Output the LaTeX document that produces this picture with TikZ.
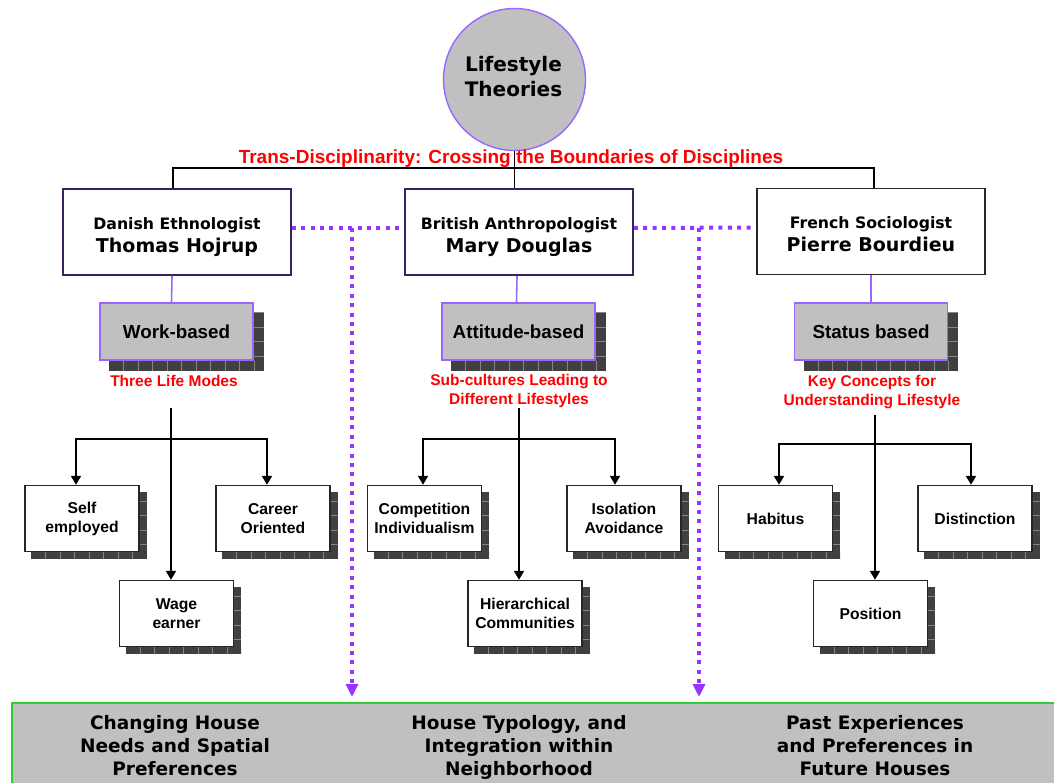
\documentclass[tikz,border=0pt]{standalone}
\usepackage{fontspec}
\setmainfont{Liberation Sans}
\newfontfamily\verd{DejaVu Sans}
\usetikzlibrary{arrows.meta,backgrounds,calc}
\definecolor{darkp}{HTML}{3A2260}
\definecolor{lightp}{HTML}{9966FF}
\definecolor{dotc}{HTML}{9933FF}
\definecolor{boxgray}{HTML}{C0C0C0}
\definecolor{shdc}{HTML}{404040}
\definecolor{shdl}{HTML}{858585}
\definecolor{bandgreen}{HTML}{33CC33}
\definecolor{redt}{HTML}{FF0000}
\newcommand\bsh[2]{%
 \begin{scope}[on background layer]
  \fill[shdc] ([shift={(#2pt,-#2pt)}]#1.south west) rectangle ([shift={(#2pt,-#2pt)}]#1.north east);
  \begin{scope}
   \clip ([shift={(#2pt,-#2pt)}]#1.south west) rectangle ([shift={(#2pt,-#2pt)}]#1.north east);
   \foreach \k in {1,...,14}{
     \draw[shdl,line width=0.8pt] ([shift={({(#2+14.5*\k)*1pt},0pt)}]#1.south west) -- +(0pt,-#2pt);
   }
   \foreach \k in {1,...,6}{
     \draw[shdl,line width=0.8pt] ([shift={(0pt,{(-#2+14.5*\k)*1pt})}]#1.south east) -- +(#2pt,0pt);
   }
  \end{scope}
 \end{scope}}
\begin{document}
\begin{tikzpicture}[x=1pt,y=-1pt,
  topbox/.style={draw=darkp, line width=1.6pt, fill=white, minimum width=228pt, minimum height=86pt, inner sep=0pt},
  toptxt/.style={align=center, inner sep=0pt, anchor=north, font=\verd\bfseries\fontsize{19}{23}\selectfont},
  midbox/.style={draw=lightp, line width=1.6pt, fill=boxgray, minimum width=153pt, minimum height=57pt, inner sep=0pt, font=\bfseries\fontsize{18.8}{22}\selectfont},
  leaf/.style={draw=black!85, line width=1.4pt, fill=white, minimum width=114pt, minimum height=66pt, inner sep=0pt, align=center, font=\bfseries\fontsize{15.7}{19}\selectfont},
  redlab/.style={text=redt, inner sep=0pt, align=center, font=\bfseries\fontsize{15.5}{19}\selectfont},
  bandtxt/.style={inner sep=0pt, anchor=north, align=center, font=\verd\bfseries\fontsize{18.5}{23}\selectfont},
  conn/.style={draw=black, line width=1.3pt},
  pconn/.style={draw=lightp, line width=1.6pt},
  arr/.style={draw=black, line width=2pt, -{Triangle[width=10pt,length=9pt]}},
  dotl/.style={draw=dotc, line width=4pt, dash pattern=on 4pt off 5.4pt},
  dotarr/.style={dotl, -{Triangle[width=12pt,length=13pt]}}
]
\useasboundingbox (0,0) rectangle (1054,783);

% bottom band
\path[draw=bandgreen, fill=boxgray, line width=2pt] (12,703) rectangle (1080,800);
\node[bandtxt] (b1) at (175,715.5) {Changing House\\Needs and Spatial\\Preferences};
\node[bandtxt] (b2) at (519,715.5) {House Typology, and\\Integration within\\Neighborhood};
\node[bandtxt] (b3) at (875,715.5) {Past Experiences\\and Preferences in\\Future Houses};

% title circle
\node[circle, draw=lightp, line width=1.4pt, fill=boxgray, minimum size=142pt, inner sep=0pt] (lt) at (514.5,79.5) {};
\node[inner sep=0pt, anchor=north, align=center, font=\verd\bfseries\fontsize{20}{25}\selectfont] (ltT) at (513.5,56) {Lifestyle\\Theories};

\node[text=redt, inner sep=0pt, anchor=base, font=\bfseries\fontsize{19}{22}\selectfont] (title) at (511,164)
  {Trans-Disciplinarity: Crossing the Boundaries of Disciplines};

% top boxes
\node[topbox] (thomas) at (177,232) {};
\node[topbox] (mary) at (519,232) {};
\node[topbox, draw=black!85] (pierre) at (871,231.5) {};
\node[toptxt] (thomasT) at ([yshift=-29pt]thomas.north) {{\fontsize{15.7}{23}\selectfont Danish Ethnologist}\\Thomas Hojrup};
\node[toptxt] (maryT) at ([yshift=-29pt]mary.north) {{\fontsize{15.7}{23}\selectfont British Anthropologist}\\Mary Douglas};
\node[toptxt] (pierreT) at ([yshift=-29pt]pierre.north) {{\fontsize{15.7}{23}\selectfont French Sociologist}\\Pierre Bourdieu};

\coordinate (hl) at (173,168);
\coordinate (hr) at (874,168);
\draw[conn] (lt.south) -- (lt.south |- mary.north);
\draw[conn] (hl |- thomas.north) -- (hl) -- (hr) -- (hr |- pierre.north);

% dotted purple
\coordinate (v1) at (352,228);
\coordinate (v1e) at (352,697);
\coordinate (v2) at (699,228);
\coordinate (v2e) at (699,697);
\draw[dotl] ([yshift=4pt]thomas.east) -- ([yshift=4pt]mary.west);
\draw[dotl] ([yshift=4pt]mary.east) -- ([yshift=4pt]pierre.west);
\draw[dotarr] (v1) -- (v1e);
\draw[dotarr] (v2) -- (v2e);

% mid boxes
\node[midbox] (work) at (176.5,331.5) {Work-based};
\node[midbox] (att) at (518.5,331.5) {Attitude-based};
\node[midbox] (stat) at (871,331.5) {Status based};
\bsh{work}{10}
\bsh{att}{10}
\bsh{stat}{10}
\draw[pconn] ([xshift=-5pt]thomas.south) -- ([xshift=-5pt]work.north);
\draw[pconn] ([xshift=-2pt]mary.south) -- ([xshift=-2pt]att.north);
\draw[pconn] (pierre.south) -- (stat.north);

% red labels
\node[redlab, anchor=base] (r1) at (174,386) {Three Life Modes};
\node[redlab, anchor=north] (r2) at (519,374.5) {Sub-cultures Leading to\\Different Lifestyles};
\node[redlab, anchor=north] (r3) at (872,375.5) {Key Concepts for\\Understanding Lifestyle};

% leaves
\node[leaf] (self) at (82,518.5) {Self\\employed};
\node[leaf] (career) at (273,518.5) {Career\\Oriented};
\node[leaf] (wage) at (176.5,613.5) {Wage\\earner};
\node[leaf] (comp) at (424.5,518.5) {Competition\\Individualism};
\node[leaf] (iso) at (624,518.5) {Isolation\\Avoidance};
\node[leaf] (hier) at (525,613.5) {Hierarchical\\Communities};
\node[leaf] (hab) at (775.5,518.5) {Habitus};
\node[leaf] (dist) at (975,518.5) {Distinction};
\node[leaf] (pos) at (870.5,613.5) {Position};
\foreach \n in {self,career,wage,comp,iso,hier,hab,dist,pos}{\bsh{\n}{7}}

% black arrows
\coordinate (a1) at (171,408);
\coordinate (j1) at (171,439);
\coordinate (a2) at (519,408);
\coordinate (j2) at (519,439);
\coordinate (a3) at (875,415);
\coordinate (j3) at (875,444);
\draw[arr] (a1) -- (a1 |- wage.north);
\draw[arr] (j1) -| ([xshift=-6pt]self.north);
\draw[arr] (j1) -| ([xshift=-6pt]career.north);
\draw[arr] (a2) -- (a2 |- hier.north);
\draw[arr] (j2) -| ([xshift=-1.5pt]comp.north);
\draw[arr] (j2) -| ([xshift=-9pt]iso.north);
\draw[arr] (a3) -- (a3 |- pos.north);
\draw[arr] (j3) -| ([xshift=3.5pt]hab.north);
\draw[arr] (j3) -| ([xshift=-4pt]dist.north);
\end{tikzpicture}
\end{document}
